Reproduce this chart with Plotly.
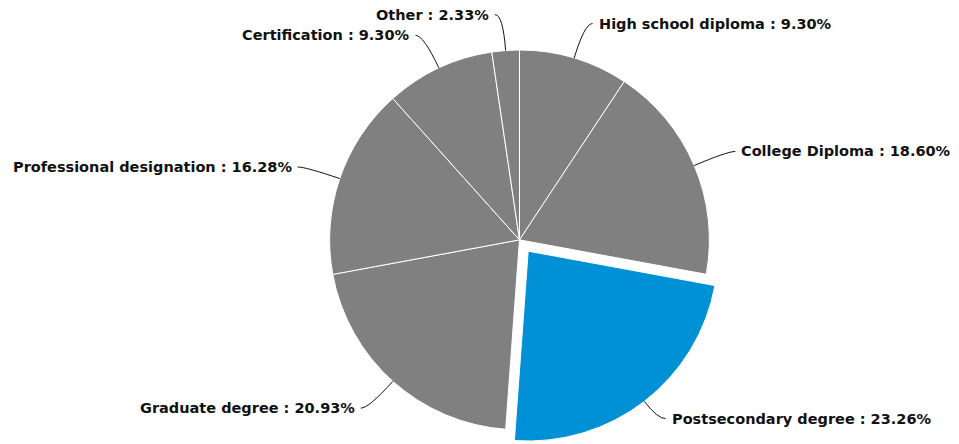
import math
import plotly.graph_objects as go

# Highest level of education among respondents (share, %)
categories = [
    "High school diploma",
    "College Diploma",
    "Postsecondary degree",
    "Graduate degree",
    "Professional designation",
    "Certification",
    "Other",
]
shares = [9.30, 18.60, 23.26, 20.93, 16.28, 9.30, 2.33]
highlight = "Postsecondary degree"

W, H = 959, 444
GRAY = "#808080"
BLUE = "#0090d6"
INK = "#111111"
PULL = 0.075

# pie placement (paper fractions; figure margins are zero so paper == pixels / size)
dom_x = [0.1246, 0.9588]
dom_y = [0.0, 0.9195]

colors = [BLUE if c == highlight else GRAY for c in categories]
pulls = [PULL if c == highlight else 0 for c in categories]

fig = go.Figure(
    go.Pie(
        labels=categories,
        values=shares,
        sort=False,
        direction="clockwise",
        rotation=0,
        pull=pulls,
        marker=dict(colors=colors, line=dict(color="white", width=1)),
        textinfo="none",
        hoverinfo="label+percent",
        showlegend=False,
        domain=dict(x=dom_x, y=dom_y),
    )
)

# pie geometry in pixels, following plotly's own sizing rule
box_w = W * (dom_x[1] - dom_x[0])
box_h = H * (dom_y[1] - dom_y[0])
radius = min(box_w, box_h) / 2 / (1 + max(pulls))
cx = W * (dom_x[0] + dom_x[1]) / 2
cy = H * (1 - (dom_y[0] + dom_y[1]) / 2)


def px(x):
    return x / W


def py(y):
    return 1 - y / H


# outside labels with curved leader lines
total = sum(shares)
cum = 0.0
shapes, annotations = [], []
LEAD = 36   # radial reach beyond the rim (measured from the pie centre)
HOOK = 8    # horizontal tail into the label
GAP = 4
for cat, val, pull in zip(categories, shares, pulls):
    mid = (cum + val / 2) / total * 2 * math.pi
    cum += val
    dx, dy = math.sin(mid), -math.cos(mid)
    ox, oy = cx + pull * radius * dx, cy + pull * radius * dy
    x0, y0 = ox + radius * dx, oy + radius * dy
    x1, y1 = cx + (radius + LEAD) * dx, cy + (radius + LEAD) * dy
    side = 1 if dx >= 0 else -1
    x2, y2 = x1 + side * HOOK, y1
    shapes.append(dict(
        type="path", xref="paper", yref="paper",
        path=f"M {px(x0)},{py(y0)} Q {px(x1)},{py(y1)} {px(x2)},{py(y2)}",
        line=dict(color=INK, width=1),
    ))
    annotations.append(dict(
        x=px(x2 + side * GAP), y=py(y2), xref="paper", yref="paper",
        text=f"<b>{cat} : {val:.2f}%</b>",
        showarrow=False,
        xanchor="left" if side > 0 else "right",
        yanchor="middle",
        font=dict(family="DejaVu Sans", size=14.5, color=INK),
    ))

fig.update_layout(
    width=W,
    height=H,
    margin=dict(l=0, r=0, t=0, b=0),
    paper_bgcolor="white",
    plot_bgcolor="white",
    shapes=shapes,
    annotations=annotations,
)

fig.write_html("out.html")
